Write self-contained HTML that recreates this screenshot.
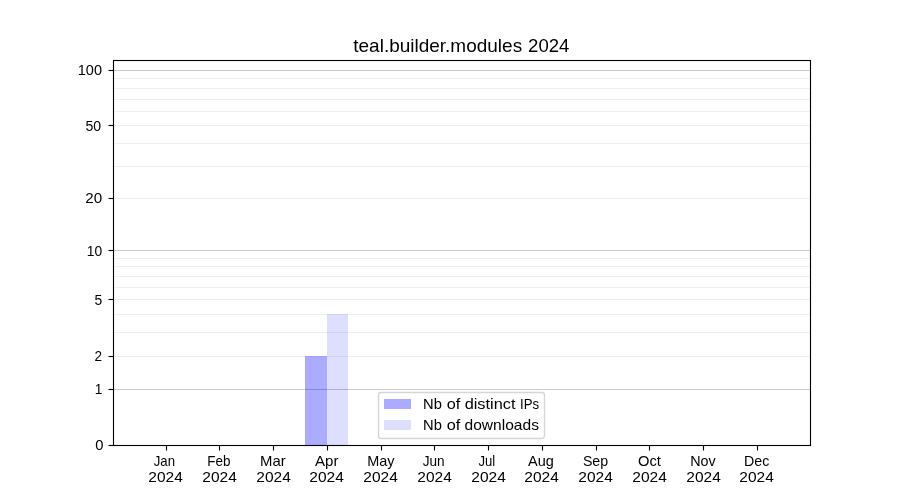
<!DOCTYPE html>
<html lang="en"><head><meta charset="utf-8"><title>teal.builder.modules 2024</title>
<style>html,body{margin:0;padding:0;background:#fff;overflow:hidden;width:900px;height:500px}svg{display:block;will-change:transform}text{font-family:"Liberation Sans",sans-serif;fill:#000;white-space:pre}</style></head><body>
<svg width="900" height="500" viewBox="0 0 900 500">
<rect x="0" y="0" width="900" height="500" fill="#fff"/>
<g id="bars">
<rect x="305" y="356" width="22" height="89" fill="#0000ff" fill-opacity="0.33"/>
<rect x="327" y="314" width="21" height="131" fill="#0000ff" fill-opacity="0.13"/>
</g>
<g id="grid-minor" stroke="#000" stroke-opacity="0.063" stroke-width="1.111">
<line x1="112.5" x2="810.0" y1="356.5" y2="356.5"/>
<line x1="112.5" x2="810.0" y1="332.5" y2="332.5"/>
<line x1="112.5" x2="810.0" y1="314.5" y2="314.5"/>
<line x1="112.5" x2="810.0" y1="299.5" y2="299.5"/>
<line x1="112.5" x2="810.0" y1="287.5" y2="287.5"/>
<line x1="112.5" x2="810.0" y1="276.5" y2="276.5"/>
<line x1="112.5" x2="810.0" y1="266.5" y2="266.5"/>
<line x1="112.5" x2="810.0" y1="258.5" y2="258.5"/>
<line x1="112.5" x2="810.0" y1="198.5" y2="198.5"/>
<line x1="112.5" x2="810.0" y1="166.5" y2="166.5"/>
<line x1="112.5" x2="810.0" y1="143.5" y2="143.5"/>
<line x1="112.5" x2="810.0" y1="125.5" y2="125.5"/>
<line x1="112.5" x2="810.0" y1="111.5" y2="111.5"/>
<line x1="112.5" x2="810.0" y1="99.5" y2="99.5"/>
<line x1="112.5" x2="810.0" y1="88.5" y2="88.5"/>
<line x1="112.5" x2="810.0" y1="78.5" y2="78.5"/>
</g>
<g id="grid-major" stroke="#000" stroke-opacity="0.2" stroke-width="1.111">
<line x1="112.5" x2="810.0" y1="389.5" y2="389.5"/>
<line x1="112.5" x2="810.0" y1="250.5" y2="250.5"/>
<line x1="112.5" x2="810.0" y1="70.5" y2="70.5"/>
</g>
<g id="ticks" stroke="#000" stroke-width="1.111">
<line x1="108.5" x2="113.5" y1="445.5" y2="445.5"/>
<line x1="108.5" x2="113.5" y1="389.5" y2="389.5"/>
<line x1="108.5" x2="113.5" y1="356.5" y2="356.5"/>
<line x1="108.5" x2="113.5" y1="299.5" y2="299.5"/>
<line x1="108.5" x2="113.5" y1="250.5" y2="250.5"/>
<line x1="108.5" x2="113.5" y1="198.5" y2="198.5"/>
<line x1="108.5" x2="113.5" y1="125.5" y2="125.5"/>
<line x1="108.5" x2="113.5" y1="70.5" y2="70.5"/>
<line x1="166.5" x2="166.5" y1="445.5" y2="450.5"/>
<line x1="219.5" x2="219.5" y1="445.5" y2="450.5"/>
<line x1="273.5" x2="273.5" y1="445.5" y2="450.5"/>
<line x1="327.5" x2="327.5" y1="445.5" y2="450.5"/>
<line x1="381.5" x2="381.5" y1="445.5" y2="450.5"/>
<line x1="434.5" x2="434.5" y1="445.5" y2="450.5"/>
<line x1="488.5" x2="488.5" y1="445.5" y2="450.5"/>
<line x1="542.5" x2="542.5" y1="445.5" y2="450.5"/>
<line x1="596.5" x2="596.5" y1="445.5" y2="450.5"/>
<line x1="649.5" x2="649.5" y1="445.5" y2="450.5"/>
<line x1="703.5" x2="703.5" y1="445.5" y2="450.5"/>
<line x1="757.5" x2="757.5" y1="445.5" y2="450.5"/>
</g>
<rect id="spines" x="113.5" y="60.5" width="697" height="385" fill="none" stroke="#000" stroke-width="1.111" stroke-linejoin="miter"/>
<g id="legend">
<rect x="378.5" y="392.5" width="166" height="46" rx="2.78" ry="2.78" fill="#fff" fill-opacity="0.8" stroke="#ccc" stroke-opacity="0.8" stroke-width="1.389"/>
<rect x="384" y="399" width="27" height="10" fill="#0000ff" fill-opacity="0.33"/>
<rect x="384" y="420" width="27" height="10" fill="#0000ff" fill-opacity="0.13"/>
</g>
<g id="labels">
<text id="t-title" y="52" font-size="18.2"><tspan x="353.27" textLength="168.88" lengthAdjust="spacingAndGlyphs">teal.builder.modules</tspan> <tspan x="528.05" textLength="41.34" lengthAdjust="spacingAndGlyphs">2024</tspan></text>
<text id="t-y100" x="77.77" y="75" font-size="14.2" textLength="24.22" lengthAdjust="spacingAndGlyphs">100</text>
<text id="t-y50" x="85.48" y="131" font-size="14.2" textLength="15.68" lengthAdjust="spacingAndGlyphs">50</text>
<text id="t-y20" x="85.32" y="203" font-size="14.2" textLength="16.88" lengthAdjust="spacingAndGlyphs">20</text>
<text id="t-y10" x="86.82" y="256" font-size="14.2" textLength="15.37" lengthAdjust="spacingAndGlyphs">10</text>
<text id="t-y5" x="94.40" y="305" font-size="14.2" textLength="7.71" lengthAdjust="spacingAndGlyphs">5</text>
<text id="t-y2" x="94.45" y="361" font-size="14.2" textLength="7.57" lengthAdjust="spacingAndGlyphs">2</text>
<text id="t-y1" x="94.71" y="394" font-size="14.2" textLength="7.64" lengthAdjust="spacingAndGlyphs">1</text>
<text id="t-y0" x="95.28" y="450" font-size="14.2" textLength="8.23" lengthAdjust="spacingAndGlyphs">0</text>
<text id="t-leg1" y="409" font-size="14.2"><tspan x="423.14" textLength="18.80" lengthAdjust="spacingAndGlyphs">Nb</tspan> <tspan x="446.75" textLength="13.60" lengthAdjust="spacingAndGlyphs">of</tspan> <tspan x="464.65" textLength="50.88" lengthAdjust="spacingAndGlyphs">distinct</tspan> <tspan x="520.03" textLength="19.07" lengthAdjust="spacingAndGlyphs">IPs</tspan></text>
<text id="t-leg2" y="430" font-size="14.2"><tspan x="423.14" textLength="18.80" lengthAdjust="spacingAndGlyphs">Nb</tspan> <tspan x="446.75" textLength="13.60" lengthAdjust="spacingAndGlyphs">of</tspan> <tspan x="464.56" textLength="74.41" lengthAdjust="spacingAndGlyphs">downloads</tspan></text>
<text id="t-m1" x="153.74" y="466" font-size="14.2" textLength="21.23" lengthAdjust="spacingAndGlyphs">Jan</text>
<text id="t-yr1" x="148.29" y="482" font-size="14.2" textLength="34.50" lengthAdjust="spacingAndGlyphs">2024</text>
<text id="t-m2" x="207.32" y="466" font-size="14.2" textLength="23.22" lengthAdjust="spacingAndGlyphs">Feb</text>
<text id="t-yr2" x="202.29" y="482" font-size="14.2" textLength="34.50" lengthAdjust="spacingAndGlyphs">2024</text>
<text id="t-m3" x="260.08" y="466" font-size="14.2" textLength="25.66" lengthAdjust="spacingAndGlyphs">Mar</text>
<text id="t-yr3" x="256.29" y="482" font-size="14.2" textLength="34.50" lengthAdjust="spacingAndGlyphs">2024</text>
<text id="t-m4" x="315.08" y="466" font-size="14.2" textLength="23.42" lengthAdjust="spacingAndGlyphs">Apr</text>
<text id="t-yr4" x="309.29" y="482" font-size="14.2" textLength="34.50" lengthAdjust="spacingAndGlyphs">2024</text>
<text id="t-m5" x="367.25" y="466" font-size="14.2" textLength="27.31" lengthAdjust="spacingAndGlyphs">May</text>
<text id="t-yr5" x="363.29" y="482" font-size="14.2" textLength="34.50" lengthAdjust="spacingAndGlyphs">2024</text>
<text id="t-m6" x="422.70" y="466" font-size="14.2" textLength="21.89" lengthAdjust="spacingAndGlyphs">Jun</text>
<text id="t-yr6" x="417.29" y="482" font-size="14.2" textLength="34.50" lengthAdjust="spacingAndGlyphs">2024</text>
<text id="t-m7" x="478.50" y="466" font-size="14.2" textLength="16.76" lengthAdjust="spacingAndGlyphs">Jul</text>
<text id="t-yr7" x="471.29" y="482" font-size="14.2" textLength="34.50" lengthAdjust="spacingAndGlyphs">2024</text>
<text id="t-m8" x="528.14" y="466" font-size="14.2" textLength="25.77" lengthAdjust="spacingAndGlyphs">Aug</text>
<text id="t-yr8" x="524.29" y="482" font-size="14.2" textLength="34.50" lengthAdjust="spacingAndGlyphs">2024</text>
<text id="t-m9" x="582.93" y="466" font-size="14.2" textLength="25.20" lengthAdjust="spacingAndGlyphs">Sep</text>
<text id="t-yr9" x="578.29" y="482" font-size="14.2" textLength="34.50" lengthAdjust="spacingAndGlyphs">2024</text>
<text id="t-m10" x="638.00" y="466" font-size="14.2" textLength="22.87" lengthAdjust="spacingAndGlyphs">Oct</text>
<text id="t-yr10" x="632.29" y="482" font-size="14.2" textLength="34.50" lengthAdjust="spacingAndGlyphs">2024</text>
<text id="t-m11" x="690.27" y="466" font-size="14.2" textLength="25.46" lengthAdjust="spacingAndGlyphs">Nov</text>
<text id="t-yr11" x="686.29" y="482" font-size="14.2" textLength="34.50" lengthAdjust="spacingAndGlyphs">2024</text>
<text id="t-m12" x="744.09" y="466" font-size="14.2" textLength="25.25" lengthAdjust="spacingAndGlyphs">Dec</text>
<text id="t-yr12" x="739.29" y="482" font-size="14.2" textLength="34.50" lengthAdjust="spacingAndGlyphs">2024</text>
</g>
</svg></body></html>
